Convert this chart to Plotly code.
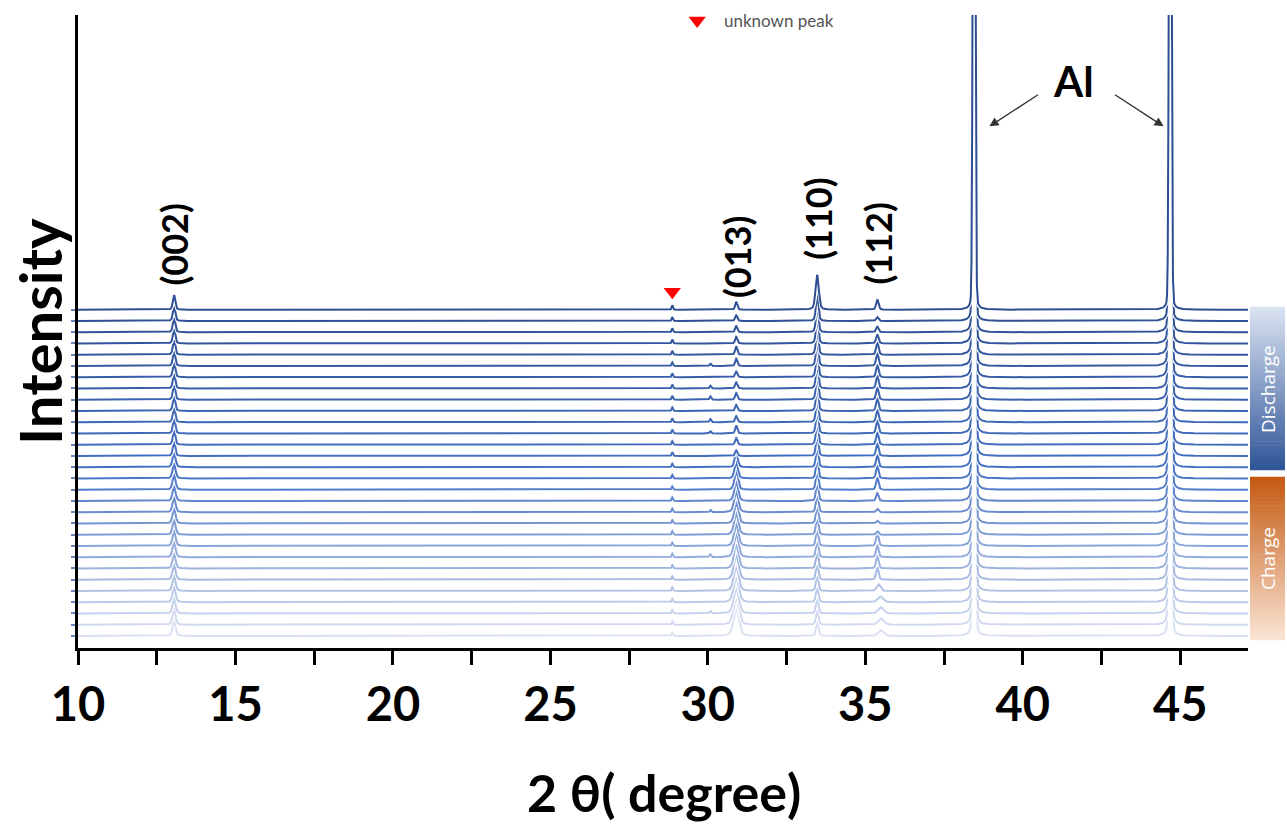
import numpy as np
import plotly.graph_objects as go

# ---------------------------------------------------------------------------
# In-situ XRD waterfall: 30 scans, index 0 = first (bottom) scan, 29 = last
# ---------------------------------------------------------------------------
N_SCANS = 30

# Peak centres (2θ, degrees)
POS_002 = 13.05
POS_UNKNOWN = 28.87
POS_MINOR = 30.08
POS_013 = 30.90
POS_110 = 33.47
POS_112 = [35.50, 35.50, 35.49, 35.48, 35.42] + [35.38] * 25
POS_AL = [38.45, 44.68]

# Peak heights, in units of one waterfall offset (scan 0 ... scan 29)
H_002 = [1.45, 1.45, 1.40, 1.45, 1.40, 1.40, 1.35, 1.40, 1.40, 1.35,
         1.40, 1.35, 1.35, 1.40, 1.35, 1.35, 1.30, 1.30, 1.35, 1.30,
         1.30, 1.35, 1.30, 1.30, 1.30, 1.35, 1.30, 1.30, 1.30, 1.30]
H_UNKNOWN = [0.30, 0.30, 0.32, 0.30, 0.32, 0.30, 0.30, 0.32, 0.30, 0.32,
             0.30, 0.32, 0.32, 0.30, 0.32, 0.32, 0.35, 0.32, 0.35, 0.35,
             0.32, 0.35, 0.35, 0.35, 0.32, 0.35, 0.35, 0.35, 0.35, 0.40]
H_MINOR = [0.00, 0.00, 0.22, 0.00, 0.00, 0.00, 0.00, 0.25, 0.00, 0.00,
           0.00, 0.20, 0.00, 0.00, 0.00, 0.00, 0.00, 0.00, 0.20, 0.28,
           0.00, 0.30, 0.25, 0.00, 0.22, 0.00, 0.00, 0.00, 0.00, 0.00]
H_013 = [2.40, 2.40, 2.30, 2.30, 2.20, 2.20, 2.10, 2.10, 2.00, 2.00,
         1.90, 1.90, 1.80, 1.70, 1.60, 1.45, 0.50, 0.60, 0.70, 0.55,
         0.55, 0.60, 0.55, 0.50, 0.65, 0.75, 0.60, 0.55, 0.50, 0.70]
W_013 = [0.20, 0.20, 0.19, 0.19, 0.18, 0.18, 0.17, 0.17, 0.16, 0.16,
         0.15, 0.15, 0.14, 0.13, 0.12, 0.11, 0.08, 0.08, 0.08, 0.08,
         0.08, 0.08, 0.08, 0.08, 0.08, 0.08, 0.08, 0.08, 0.08, 0.08]
H_110 = [1.30, 1.30, 1.35, 1.35, 1.40, 1.40, 1.45, 1.50, 1.50, 1.55,
         1.60, 1.65, 1.70, 1.75, 1.80, 1.90, 2.00, 2.05, 2.10, 2.15,
         2.20, 2.20, 2.25, 2.30, 2.30, 2.35, 2.40, 2.40, 2.45, 3.10]
H_112 = [0.50, 0.55, 0.55, 0.50, 0.60, 1.10, 1.15, 1.10, 1.20, 0.30,
         0.25, 0.30, 0.70, 1.10, 1.15, 1.10, 1.15, 1.10, 1.20, 1.10,
         1.15, 1.10, 1.15, 1.10, 1.15, 1.10, 0.80, 0.50, 0.35, 0.90]
W_112 = [0.20, 0.20, 0.20, 0.20, 0.14] + [0.09] * 25
H_AL = 80.0
H_AL_FOOT = 3.0

X_TICKS = [10, 12.5, 15, 17.5, 20, 22.5, 25, 27.5, 30, 32.5, 35, 37.5, 40, 42.5, 45]
X_TICKTEXT = ["10", "", "15", "", "20", "", "25", "", "30", "", "35", "", "40", "", "45"]

FONT = "Lato"


def pseudo_voigt(x, x0, h, fwhm, eta=0.4):
    d = (x - x0) / fwhm
    lor = 1.0 / (1.0 + 4.0 * d * d)
    gau = np.exp(-4.0 * np.log(2.0) * d * d)
    return h * (eta * lor + (1.0 - eta) * gau)


def gauss(x, x0, h, fwhm):
    d = (x - x0) / fwhm
    return h * np.exp(-4.0 * np.log(2.0) * d * d)


def lorentz(x, x0, h, hwhm):
    d = (x - x0) / hwhm
    return h / (1.0 + d * d)


# sampling grid, refined around the sharp aluminium reflections
grid = np.arange(10.0, 47.2, 0.01)
for c in POS_AL:
    grid = np.union1d(grid, np.arange(c - 0.6, c + 0.6, 0.002))
grid = np.union1d(grid, POS_AL)


def pattern(i):
    y = np.zeros_like(grid)
    y += pseudo_voigt(grid, POS_002, H_002[i], 0.09 if i > 15 else 0.11)
    y += pseudo_voigt(grid, POS_UNKNOWN, H_UNKNOWN[i], 0.05)
    y += pseudo_voigt(grid, POS_MINOR, H_MINOR[i], 0.06)
    y += pseudo_voigt(grid, POS_013, H_013[i], W_013[i])
    y += pseudo_voigt(grid, POS_110, H_110[i], 0.12 if i == N_SCANS - 1 else 0.09)
    y += pseudo_voigt(grid, POS_112[i], H_112[i], W_112[i])
    for c in POS_AL:
        y += gauss(grid, c, H_AL, 0.075)
        y += lorentz(grid, c, H_AL_FOOT, 0.06)
    return y + i


def lerp_rgb(a, b, t):
    return tuple(a[k] + (b[k] - a[k]) * t for k in range(3))


LIGHT = (218, 225, 242)
MID = (70, 114, 196)
DARK = (44, 78, 146)


def scan_color(i):
    t = i / (N_SCANS - 1)
    if t < 0.5:
        c = lerp_rgb(LIGHT, MID, t / 0.5)
    else:
        c = lerp_rgb(MID, DARK, (t - 0.5) / 0.5)
    return "rgb(%d,%d,%d)" % tuple(int(round(v)) for v in c)


fig = go.Figure()
for i in range(N_SCANS):
    y = np.round(pattern(i), 4)
    fig.add_trace(go.Scatter(x=grid, y=y, mode="lines",
                             line=dict(color="white", width=4.5),
                             hoverinfo="skip", showlegend=False))
    fig.add_trace(go.Scatter(x=grid, y=y, mode="lines",
                             line=dict(color=scan_color(i), width=2),
                             name="scan %d" % (i + 1), showlegend=False))

# red marker over the unidentified reflection, and its key
fig.add_trace(go.Scatter(x=[POS_UNKNOWN], y=[30.6], mode="markers",
                         marker=dict(symbol="triangle-down", size=15, color="#ff0000"),
                         cliponaxis=False, showlegend=False, hoverinfo="skip"))
fig.add_trace(go.Scatter(x=[29.66], y=[54.7], mode="markers",
                         marker=dict(symbol="triangle-down", size=15, color="#ff0000"),
                         cliponaxis=False, showlegend=False, hoverinfo="skip"))

annotations = [
    dict(x=30.45, y=54.7, xref="x", yref="y", text="unknown peak", showarrow=False,
         xanchor="left", yanchor="middle", font=dict(family=FONT, size=17, color="#555555")),
]

for label, xx, yy in [("(002)", 13.05, 34.8), ("(013)", 30.93, 33.7),
                      ("(110)", 33.47, 37.1), ("(112)", 35.41, 34.9)]:
    annotations.append(dict(x=xx, y=yy, xref="x", yref="y", text="<b>%s</b>" % label,
                            textangle=-90, showarrow=False, xanchor="center", yanchor="middle",
                            font=dict(family=FONT, size=36, color="black")))

annotations.append(dict(x=41.61, y=49.3, xref="x", yref="y", text="<b>Al</b>", showarrow=False,
                        xanchor="center", yanchor="middle",
                        font=dict(family=FONT, size=42, color="black")))
for hx, tx in [(38.94, 40.53), (44.47, 42.88)]:
    annotations.append(dict(x=hx, y=45.3, ax=tx, ay=48.2, xref="x", yref="y",
                            axref="x", ayref="y", text="", showarrow=True,
                            arrowhead=2, arrowsize=1.3, arrowwidth=1.4, arrowcolor="#333333"))

# axis titles
annotations.append(dict(x=0.501, y=-0.228, xref="paper", yref="paper",
                        text="<b>2 θ( degree)</b>", showarrow=False,
                        xanchor="center", yanchor="middle",
                        font=dict(family=FONT, size=52, color="black")))
annotations.append(dict(x=-0.033, y=0.50, xref="paper", yref="paper",
                        text="<b>Intensity</b>", showarrow=False, textangle=-90,
                        xanchor="center", yanchor="middle",
                        font=dict(family=FONT, size=58, color="black")))

# discharge / charge gradient bars to the right of the frame
shapes = []
N_SLICES = 40
BAR_X0, BAR_X1 = 1.0017, 1.0316
segments = [
    # (label, bottom, top, top colour, bottom colour)
    ("Discharge", 0.2812, 0.5387, (220, 228, 243), (47, 85, 151)),
    ("Charge", 0.0126, 0.2701, (197, 90, 17), (251, 229, 214)),
]
for name, yb, yt, c_top, c_bot in segments:
    for k in range(N_SLICES):
        t = (k + 0.5) / N_SLICES
        c = lerp_rgb(c_top, c_bot, t)
        y1 = yt - (yt - yb) * k / N_SLICES
        y0 = yt - (yt - yb) * (k + 1) / N_SLICES
        shapes.append(dict(type="rect", xref="paper", yref="paper",
                           x0=BAR_X0, x1=BAR_X1, y0=y0 - 0.0005, y1=y1 + 0.0005,
                           fillcolor="rgb(%d,%d,%d)" % tuple(int(v) for v in c),
                           line=dict(width=0), layer="above"))
    annotations.append(dict(x=(BAR_X0 + BAR_X1) / 2, y=(yb + yt) / 2, xref="paper", yref="paper",
                            text=name, showarrow=False, textangle=-90,
                            xanchor="center", yanchor="middle",
                            font=dict(family="Open Sans", size=19, color="white")))

fig.update_layout(
    width=1287, height=836,
    margin=dict(l=78, r=39, t=15, b=188),
    paper_bgcolor="white", plot_bgcolor="white",
    showlegend=False,
    annotations=annotations,
    shapes=shapes,
    xaxis=dict(range=[10, 47.15], tickmode="array", tickvals=X_TICKS, ticktext=X_TICKTEXT,
               ticks="outside", ticklen=14, tickwidth=3, tickcolor="black",
               showline=True, linewidth=3, linecolor="black", mirror=False,
               showgrid=False, zeroline=False,
               tickfont=dict(family=FONT, size=47, color="black", weight="bold")),
    yaxis=dict(range=[-1.07, 55.2], tickmode="array", tickvals=list(range(N_SCANS)),
               ticktext=[""] * N_SCANS, ticks="outside", ticklen=4, tickwidth=2,
               tickcolor="#6a86c0", showline=True, linewidth=3, linecolor="black",
               showgrid=False, zeroline=False),
)

fig.write_html("out.html")
